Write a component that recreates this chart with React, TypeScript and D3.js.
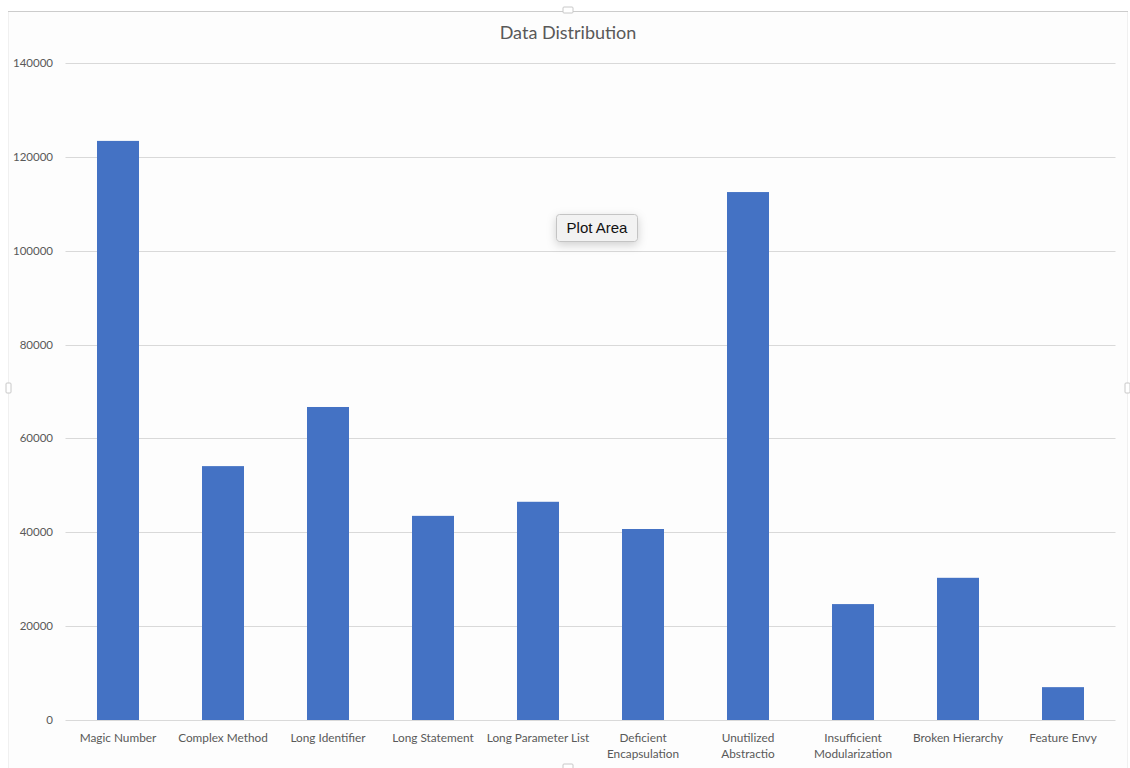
import React, { useEffect, useRef } from "react";
import * as d3 from "d3";

const categories: string[][] = [
  ["Magic Number"],
  ["Complex Method"],
  ["Long Identifier"],
  ["Long Statement"],
  ["Long Parameter List"],
  ["Deficient", "Encapsulation"],
  ["Unutilized", "Abstractio"],
  ["Insufficient", "Modularization"],
  ["Broken Hierarchy"],
  ["Feature Envy"],
];
const values: number[] = [123400, 54100, 66700, 43500, 46500, 40700, 112500, 24700, 30300, 7000];
const yTicks: number[] = [0, 20000, 40000, 60000, 80000, 100000, 120000, 140000];
const chartTitle = "Data Distribution";

const W = 1130;
const H = 768;
const FONT = "Lato, 'Open Sans', sans-serif";

export default function App() {
  const ref = useRef<SVGSVGElement | null>(null);

  useEffect(() => {
    const svg = d3.select(ref.current);
    svg.selectAll("*").remove();

    const plot = { left: 65.5, right: 1115.5, top: 63, bottom: 720 };
    const keys = categories.map((c) => c.join(" "));

    const x = d3.scaleBand<string>().domain(keys).range([plot.left, plot.right]).paddingInner(0.6).paddingOuter(0.3);
    const y = d3.scaleLinear().domain([0, 140000]).range([plot.bottom, plot.top]);

    // chart background and frame
    svg.append("rect").attr("x", 0).attr("y", 0).attr("width", W).attr("height", H).attr("fill", "#ffffff");
    svg.append("rect").attr("x", 8.5).attr("y", 11.5).attr("width", 1119).attr("height", 770)
      .attr("fill", "#fdfdfd").attr("stroke", "#f0f0f0").attr("stroke-width", 1);
    svg.append("line").attr("x1", 8).attr("x2", 1128).attr("y1", 11.5).attr("y2", 11.5)
      .attr("stroke", "#cccccc").attr("stroke-width", 1);

    // frame handles
    const handle = (hx: number, hy: number, w: number, h: number) =>
      svg.append("rect").attr("x", hx).attr("y", hy).attr("width", w).attr("height", h)
        .attr("fill", "#ffffff").attr("stroke", "#c8c8c8").attr("rx", 1);
    handle(563, 7, 10, 6);
    handle(6, 383, 5, 10);
    handle(1125, 383, 5, 10);
    handle(563, 764, 10, 6);

    // title
    svg.append("text").attr("x", 568).attr("y", 39).attr("text-anchor", "middle")
      .attr("font-family", FONT).attr("font-size", 18).attr("fill", "#595959").text(chartTitle);

    // gridlines + y labels
    const g = svg.append("g");
    g.selectAll("line.grid").data(yTicks).join("line")
      .attr("x1", plot.left).attr("x2", plot.right)
      .attr("y1", (d) => Math.round(y(d)) + 0.5).attr("y2", (d) => Math.round(y(d)) + 0.5)
      .attr("stroke", "#d9d9d9").attr("stroke-width", 1);
    g.selectAll("text.ytick").data(yTicks).join("text")
      .attr("x", 53).attr("y", (d) => y(d) + 4).attr("text-anchor", "end")
      .attr("font-family", FONT).attr("font-size", 11.5).attr("fill", "#595959")
      .text((d) => String(d));

    // bars
    svg.append("g").selectAll("rect").data(values).join("rect")
      .attr("x", (_, i) => x(keys[i])!)
      .attr("width", x.bandwidth())
      .attr("y", (d) => y(d))
      .attr("height", (d) => y(0) - y(d))
      .attr("fill", "#4472C4");

    // category labels
    const labels = svg.append("g");
    categories.forEach((lines, i) => {
      const cx = x(keys[i])! + x.bandwidth() / 2;
      const t = labels.append("text").attr("text-anchor", "middle")
        .attr("font-family", FONT).attr("font-size", 11.8).attr("fill", "#595959");
      lines.forEach((ln, j) => {
        t.append("tspan").attr("x", cx).attr("y", 742 + j * 16).text(ln);
      });
    });

    // hover tooltip
    const tip = svg.append("g").attr("transform", "translate(556,214)");
    const defs = svg.append("defs");
    const f = defs.append("filter").attr("id", "tipShadow").attr("x", "-50%").attr("y", "-50%").attr("width", "200%").attr("height", "200%");
    f.append("feDropShadow").attr("dx", 0).attr("dy", 3).attr("stdDeviation", 5).attr("flood-color", "#000").attr("flood-opacity", 0.18);
    tip.append("rect").attr("x", 0.5).attr("y", 0.5).attr("width", 81).attr("height", 27).attr("rx", 3)
      .attr("fill", "#f2f2f2").attr("stroke", "#c4c4c4").attr("filter", "url(#tipShadow)");
    tip.append("text").attr("x", 41).attr("y", 19).attr("text-anchor", "middle")
      .attr("font-family", "'Liberation Sans', 'DejaVu Sans', sans-serif").attr("font-size", 15).attr("fill", "#111")
      .text("Plot Area");
  }, []);

  return (
    <div style={{ position: "absolute", left: 0, top: 0 }}>
      <svg ref={ref} width={W} height={H} style={{ display: "block" }} />
    </div>
  );
}
